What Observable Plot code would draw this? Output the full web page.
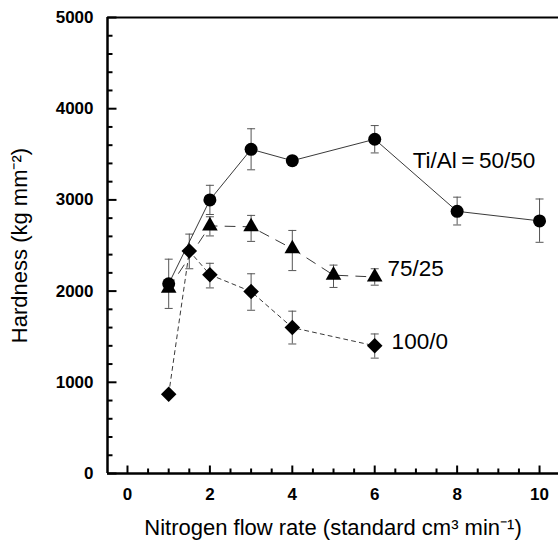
<!DOCTYPE html>
<html><head><meta charset="utf-8">
<script src="https://cdn.jsdelivr.net/npm/d3@7"></script>
<script src="https://cdn.jsdelivr.net/npm/@observablehq/plot@0.6"></script>
<style>body{margin:0;background:#fff} svg{display:block}</style>
</head><body><div id="chart"></div>
<script>
// Ti/Al = 50/50 (circles)
const flow50 = [1, 2, 3, 4, 6, 8, 10];
const hard50 = [2080, 3000, 3555, 3430, 3665, 2875, 2770];
const lo50   = [1810, 2840, 3330, 3390, 3515, 2725, 2535];
const hi50   = [2350, 3160, 3780, 3470, 3815, 3030, 3010];
// 75/25 (triangles)
const flow75 = [1, 2, 3, 4, 5, 6];
const hard75 = [2030, 2715, 2705, 2465, 2175, 2155];
const lo75   = [null, 2605, 2545, 2225, 2040, 2065];
const hi75   = [null, 2815, 2830, 2665, 2285, 2245];
// 100/0 (diamonds)
const flow100 = [1, 1.5, 2, 3, 4, 6];
const hard100 = [870, 2440, 2180, 1995, 1600, 1400];
const lo100   = [null, 2245, 2035, 1790, 1420, 1265];
const hi100   = [null, 2625, 2305, 2190, 1780, 1530];

const labelTexts = ["Ti/Al\u2009=\u200950/50", "75/25", "100/0"];
const labelX = [6.92, 6.31, 6.41];
const labelY = [3430, 2250, 1445];

const xTicks = [0, 2, 4, 6, 8, 10];
const yTicks = [0, 1000, 2000, 3000, 4000, 5000];
const xMinor = [0.5, 1, 1.5, 2.5, 3, 3.5, 4.5, 5, 5.5, 6.5, 7, 7.5, 8.5, 9, 9.5];
const yMinor = [200, 400, 600, 800, 1200, 1400, 1600, 1800, 2200, 2400, 2600, 2800, 3200, 3400, 3600, 3800, 4200, 4400, 4600, 4800];

const xDomain = [-0.485, 10.46];
const yDomain = [0, 5000];

const W = 558, H = 545, mL = 107, mR = 0, mT = 17, mB = 72;
// pixel tick lengths converted to data units through the scale factors
const xPerPx = (xDomain[1] - xDomain[0]) / (W - mL - mR);
const yPerPx = (yDomain[1] - yDomain[0]) / (H - mT - mB);

function rows(name, xs, ys, lo, hi) {
  return xs.map((x, i) => ({series: name, x, y: ys[i], lo: lo[i], hi: hi[i]}));
}
const d50 = rows("50/50", flow50, hard50, lo50, hi50);
const d75 = rows("75/25", flow75, hard75, lo75, hi75);
const d100 = rows("100/0", flow100, hard100, lo100, hi100);
const errs = [...d50, ...d75, ...d100].filter(d => d.lo != null);
const labels = labelTexts.map((t, i) => ({text: t, x: labelX[i], y: labelY[i]}));
const xTickRows = [...xMinor.map(v => ({v, len: 5})), ...xTicks.map(v => ({v, len: 8}))];
const yTickRows = [...yMinor.map(v => ({v, len: 5})), ...yTicks.map(v => ({v, len: 9}))];

const capSymbol = {draw(ctx, size) { const w = Math.sqrt(size / Math.PI); ctx.moveTo(-w, 0); ctx.lineTo(w, 0); }};

const font = "'Liberation Sans', Arial, Helvetica, sans-serif";
const lineColor = "#222";
const errColor = "#555";

const chart = Plot.plot({
  width: W,
  height: H,
  marginLeft: mL,
  marginRight: mR,
  marginTop: mT,
  marginBottom: mB,
  style: {fontFamily: font, background: "#fff", color: "#000"},
  x: {domain: xDomain},
  y: {domain: yDomain},
  marks: [
    // tick labels
    Plot.axisX({ticks: xTicks, tickSize: 0, tickPadding: 14, fontSize: 17, fontWeight: "bold", tickFormat: d3.format("d"), label: null}),
    Plot.axisY({ticks: yTicks, tickSize: 0, tickPadding: 14, fontSize: 17, fontWeight: "bold", tickFormat: d3.format("d"), label: null}),
    // axis titles
    Plot.axisX({ticks: [], tickSize: 0, fontSize: 22, label: "Nitrogen flow rate (standard cm³ min⁻¹)", labelAnchor: "center", labelOffset: 61, labelArrow: "none"}),
    Plot.axisY({ticks: [], tickSize: 0, fontSize: 22, label: "Hardness (kg mm⁻²)", labelAnchor: "center", labelOffset: 96, labelArrow: "none"}),
    // error bars
    Plot.ruleX(errs, {x: "x", y1: "lo", y2: "hi", stroke: errColor, strokeWidth: 1}),
    Plot.dot(errs, {x: "x", y: "lo", symbol: capSymbol, r: 4, stroke: errColor, strokeWidth: 1, fill: "none"}),
    Plot.dot(errs, {x: "x", y: "hi", symbol: capSymbol, r: 4, stroke: errColor, strokeWidth: 1, fill: "none"}),
    // lines
    Plot.line(d50, {x: "x", y: "y", stroke: lineColor, strokeWidth: 0.9}),
    Plot.line(d75, {x: "x", y: "y", stroke: lineColor, strokeWidth: 0.9, strokeDasharray: "10,8"}),
    Plot.line(d100, {x: "x", y: "y", stroke: lineColor, strokeWidth: 0.9, strokeDasharray: "4,4"}),
    // markers
    Plot.dot(d75, {x: "x", y: "y", symbol: "triangle", r: 5.8, fill: "#000", stroke: "none"}),
    Plot.dot(d50, {x: "x", y: "y", symbol: "circle", r: 6.5, fill: "#000", stroke: "none"}),
    Plot.dot(d100, {x: "x", y: "y", symbol: "diamond2", r: 7, fill: "#000", stroke: "none"}),
    // series labels
    Plot.text(labels, {x: "x", y: "y", text: "text", textAnchor: "start", fontSize: 22.5, fill: "#000"}),
    // frame
    Plot.ruleY([yDomain[0]], {strokeWidth: 2.5}),
    Plot.ruleY([yDomain[1]], {strokeWidth: 2}),
    Plot.ruleX([xDomain[0]], {strokeWidth: 2.5}),
    // inward ticks
    Plot.link(xTickRows, {x1: "v", x2: "v", y1: () => yDomain[0], y2: d => yDomain[0] + d.len * yPerPx, stroke: "#000", strokeWidth: 2}),
    Plot.link(yTickRows, {y1: "v", y2: "v", x1: () => xDomain[0], x2: d => xDomain[0] + d.len * xPerPx, stroke: "#000", strokeWidth: 2})
  ]
});
document.getElementById("chart").appendChild(chart);
</script>
</body></html>
